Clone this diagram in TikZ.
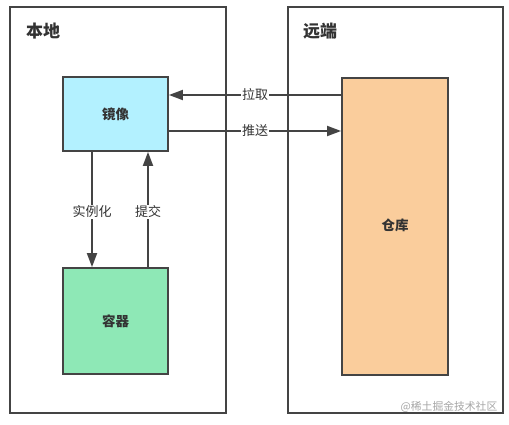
\documentclass[tikz,border=0pt]{standalone}
\usepackage{fontspec}
\setmainfont{Noto Sans CJK SC}
\usetikzlibrary{arrows.meta}
\definecolor{linec}{HTML}{444444}
\definecolor{txtc}{HTML}{333333}
\definecolor{mirrorc}{HTML}{B3F1FF}
\definecolor{contc}{HTML}{8EE8B6}
\definecolor{repoc}{HTML}{FACD9C}
\tikzset{
  frame/.style={draw=linec, line width=1.8pt},
  box/.style={draw=linec, line width=1.8pt, text=txtc, font=\fontsize{13.5}{15}\selectfont\bfseries},
  boxtext/.style={text=txtc, font=\fontsize{13.5}{15}\selectfont\bfseries},
  conn/.style={draw=linec, line width=1.8pt, -{Triangle[length=14pt,width=10pt]}},
  lbl/.style={fill=white, text=txtc, inner sep=1pt, font=\fontsize{13}{15}\selectfont},
  title/.style={text=txtc, font=\fontsize{17}{19}\selectfont\bfseries},
}
\begin{document}
\begin{tikzpicture}[x=1pt,y=-1pt]
\useasboundingbox[fill=white] (0,0) rectangle (509,425);
\draw[frame] (10,7) rectangle (226,413);
\draw[frame] (288,7) rectangle (503,413);
\node[title] (local) at (43,31) {本地};
\node[title] (remote) at (320,31) {远端};
\node[box, fill=mirrorc, minimum width=105pt, minimum height=74pt] (mirror) at (115.5,114) {镜像};
\node[box, fill=contc, minimum width=105pt, minimum height=106pt] (cont) at (115.5,321) {容器};
\node[box, fill=repoc, minimum width=106pt, minimum height=297pt, anchor=north] (repo) at (395,77) {};
\node[boxtext] (repolbl) at (395,225) {仓库};
\draw[conn] (repo.west |- 0,95) -- node[lbl] {拉取} (mirror.east |- 0,95);
\draw[conn] (mirror.east |- 0,131) -- node[lbl] {推送} (repo.west |- 0,131);
\draw[conn] (mirror.south -| 92,0) -- node[lbl, pos=0.52] {实例化} (cont.north -| 92,0);
\draw[conn] (cont.north -| 148,0) -- node[lbl, pos=0.48] {提交} (mirror.south -| 148,0);
\node[text=gray!70, font=\fontsize{10.8}{12}\selectfont] (wm) at (449,407) {@稀土掘金技术社区};
\end{tikzpicture}
\end{document}
